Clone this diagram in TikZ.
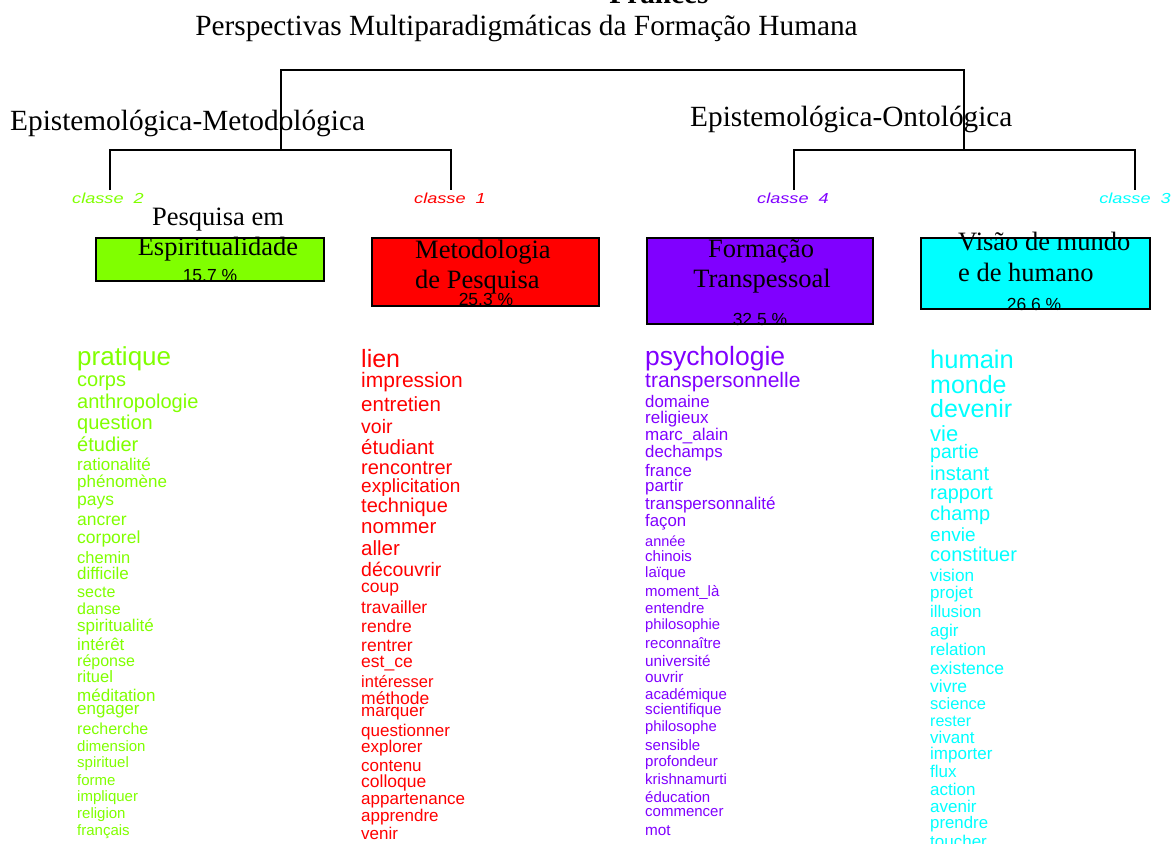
\documentclass[tikz,border=0pt]{standalone}
\usepackage{fontspec}
\setmainfont{Liberation Serif}
\setsansfont{Liberation Sans}
\newfontfamily\classefont[FakeStretch=1.25]{Liberation Sans}
\usepackage{tikz}

\definecolor{classeverde}{RGB}{128,255,0}
\definecolor{classevermelho}{RGB}{255,0,0}
\definecolor{classeroxo}{RGB}{128,0,255}
\definecolor{classeciano}{RGB}{0,255,255}

\begin{document}
\begin{tikzpicture}[x=1pt,y=-1pt,
    rotulo/.style={font=\fontsize{29.3}{32}\selectfont, inner sep=0pt},
    classe/.style={font=\classefont\itshape\fontsize{14.5}{16}\selectfont, inner sep=1pt},
    caixa/.style={draw=black, line width=1.3pt, inner sep=0pt},
    nomecaixa/.style={font=\fontsize{26.5}{30}\selectfont, inner sep=0pt, anchor=base},
    pct/.style={font=\sffamily\fontsize{17.5}{18}\selectfont, inner sep=0pt},
    palavra/.style={anchor=mid west, inner sep=0pt}]
        \useasboundingbox (0,0) rectangle (1172,843);
        \clip (0,0) rectangle (1172,843);

        % titulos
        \node [rotulo, font=\bfseries\fontsize{29.3}{32}\selectfont, anchor=base] (idioma) at (659,4) {Francês};
        \node [rotulo, anchor=base] (titulo) at (526.5,36) {Perspectivas Multiparadigmáticas da Formação Humana};
        \node [rotulo, anchor=base west] (epmet) at (10,130) {Epistemológica-Metodológica};
        \node [rotulo, anchor=base west] (epont) at (690,126) {Epistemológica-Ontológica};

        % classes
        \node [classe, text=classeverde] (cl2) at (108,198) {classe\ \ 2};
        \node [classe, text=classevermelho] (cl1) at (450,198) {classe\ \ 1};
        \node [classe, text=classeroxo] (cl4) at (793,198) {classe\ \ 4};
        \node [classe, text=classeciano] (cl3) at (1135,198) {classe\ \ 3};

        % dendrograma
        \coordinate (raiz) at (622,70);
        \coordinate (epm) at (281,150);
        \coordinate (epo) at (964,150);
        \coordinate (f2) at (110,190);
        \coordinate (f1) at (451,190);
        \coordinate (f4) at (794,190);
        \coordinate (f3) at (1135,190);
        \draw [line width=1.2pt] (epm) |- (raiz) -| (epo);
        \draw [line width=1.2pt] (f2) |- (epm) -| (f1);
        \draw [line width=1.2pt] (f4) |- (epo) -| (f3);

        % caixas
        \node [caixa, fill=classeverde, minimum width=228pt, minimum height=43pt] (cx2) at (210,259.5) {};
        \node [caixa, fill=classevermelho, minimum width=227pt, minimum height=68pt] (cx1) at (485.5,272) {};
        \node [caixa, fill=classeroxo, minimum width=226pt, minimum height=86pt] (cx4) at (760,281) {};
        \node [caixa, fill=classeciano, minimum width=229pt, minimum height=71pt] (cx3) at (1035.5,273.5) {};

        \node [nomecaixa] (n2a) at (218,225) {Pesquisa em};
        \node [nomecaixa] (n2b) at (218,255) {Espiritualidade};
        \node [nomecaixa, anchor=base west] (n1a) at (415,258) {Metodologia};
        \node [nomecaixa, anchor=base west] (n1b) at (415,288) {de Pesquisa};
        \node [nomecaixa] (n4a) at (761,257) {Formação};
        \node [nomecaixa] (n4b) at (762,287) {Transpessoal};
        \node [nomecaixa, anchor=base west] (n3a) at (958,250) {Visão de mundo};
        \node [nomecaixa, anchor=base west] (n3b) at (958,281) {e de humano};

        \node [pct] (p2) at (210,276) {15.7 \%};
        \node [pct] (p1) at (486,299) {25.3 \%};
        \node [pct] (p4) at (760,319) {32.5 \%};
        \node [pct] (p3) at (1034,304) {26.6 \%};

        % palavras classe 2
        \foreach \w/\s/\y [count=\i] in {pratique/26/361, corps/20/382, anthropologie/20/404, question/20/425, étudier/20/447, rationalité/17/466, phénomène/17/483, pays/17.5/501, ancrer/17.5/521, corporel/17.5/539, chemin/16.5/559, difficile/17/575, secte/16/593, danse/16/610, spiritualité/17/627, intérêt/17/646, réponse/16/662, rituel/16.5/678, méditation/17/697, engager/17/710, recherche/16/730, dimension/15/747, spirituel/15/763, forme/15/781, impliquer/15/797, religion/15/814, français/15/831}
            \node [palavra, text=classeverde, font=\sffamily\fontsize{\s}{\s}\selectfont] (verde\i) at (77,\y+2) {\w};

        % palavras classe 1
        \foreach \w/\s/\y [count=\i] in {lien/25/363, impression/21/383, entretien/20.5/407, voir/19.5/429, étudiant/20.5/450, rencontrer/20/470, explicitation/19/488, technique/20/508, nommer/20.5/529, aller/20.5/551, découvrir/19.5/572, coup/17.5/588, travailler/17.5/609, rendre/17.5/628, rentrer/17.5/647, est\_ce/17.5/663, intéresser/16.5/683, méthode/17.5/700, marquer/17/712, questionner/17/732, explorer/17/748, contenu/17/767, colloque/17.5/783, appartenance/17/800, apprendre/17/817, venir/17/835}
            \node [palavra, text=classevermelho, font=\sffamily\fontsize{\s}{\s}\selectfont] (vermelho\i) at (361,\y+2) {\w};

        % palavras classe 4
        \foreach \w/\s/\y [count=\i] in {psychologie/26.5/361, transpersonnelle/21/383, domaine/16.8/403, religieux/17/419, marc\_alain/17/436, dechamps/16.8/453, france/16.8/472, partir/16.8/487, transpersonnalité/17/505, façon/16.8/522, année/14.5/542, chinois/15/557, laïque/15/573, moment\_là/15/592, entendre/15/609, philosophie/14.8/625, reconnaître/15/644, université/15.3/662, ouvrir/15.3/678, académique/15/695, scientifique/15.3/710, philosophe/14.8/727, sensible/15/746, profondeur/15/762, krishnamurti/15/780, éducation/15/798, commencer/15/812, mot/15.3/831}
            \node [palavra, text=classeroxo, font=\sffamily\fontsize{\s}{\s}\selectfont] (roxo\i) at (645,\y+2) {\w};

        % palavras classe 3
        \foreach \w/\s/\y [count=\i] in {humain/25.5/364, monde/25/389, devenir/25/413, vie/22/437, partie/19.5/454, instant/20/476, rapport/19.8/495, champ/20/516, envie/19/537, constituer/20/557, vision/17.2/577, projet/17/594, illusion/16.8/613, agir/17/632, relation/17/651, existence/17.5/670, vivre/17.5/688, science/16.5/705, rester/16/722, vivant/17/739, importer/17/755, flux/17/773, action/17/791, avenir/17/808, prendre/16.8/824, toucher/17/843}
            \node [palavra, text=classeciano, font=\sffamily\fontsize{\s}{\s}\selectfont] (ciano\i) at (930,\y+2) {\w};
    \end{tikzpicture}
\end{document}
